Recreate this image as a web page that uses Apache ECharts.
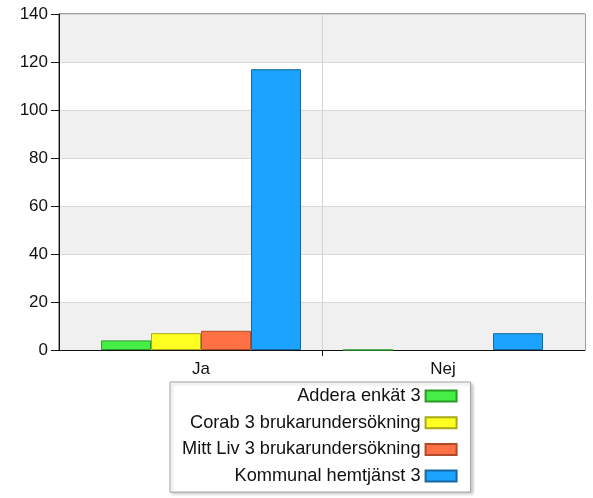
<!DOCTYPE html>
<html>
<head>
<meta charset="utf-8">
<script src="https://cdn.jsdelivr.net/npm/echarts@6/dist/echarts.min.js"></script>
<style>
  html, body { margin: 0; padding: 0; background: #fff; }
  #chart { width: 593px; height: 498px; }
</style>
</head>
<body>
<div id="chart"></div>
<script>
// Answer categories and counts per survey source
const categories = ['Ja', 'Nej'];
const seriesNames = [
  'Addera enkät 3',
  'Corab 3 brukarundersökning',
  'Mitt Liv 3 brukarundersökning',
  'Kommunal hemtjänst 3'
];
const adderaValues = [4, 0];
const corabValues = [7, null];
const mittLivValues = [8, null];
const kommunalValues = [117, 7];
const yTicks = [0, 20, 40, 60, 80, 100, 120, 140];

const fills = ['#44ee44', '#ffff22', '#ff7044', '#1ba3ff'];
const strokes = ['#2a9a2a', '#a8a818', '#b04a2a', '#16689e'];
const valueSets = [adderaValues, corabValues, mittLivValues, kommunalValues];

const font = 'Liberation Sans, Arial, sans-serif';

const chart = echarts.init(document.getElementById('chart'));
chart.setOption({
  animation: false,
  textStyle: { fontFamily: font },
  grid: [
    { left: 59, right: 8, top: 14, bottom: 148, show: true,
      borderColor: '#3a3a3a', borderWidth: 1, backgroundColor: 'transparent' },
    { left: 80, right: 29, top: 14, bottom: 148 }
  ],
  xAxis: [
    { // frame axis: category divider and its tick
      gridIndex: 0, type: 'value', min: 0, max: 2, interval: 1,
      axisLine: { show: true, lineStyle: { color: '#111', width: 1 } },
      axisTick: { show: true, customValues: [1], length: 6, lineStyle: { color: '#111' } },
      axisLabel: { show: false },
      splitLine: { show: true, lineStyle: { color: '#d4d4d4', width: 1 } }
    },
    { // bar axis
      gridIndex: 1, type: 'category', data: categories,
      axisLine: { show: false }, axisTick: { show: false },
      axisLabel: { color: '#111', fontSize: 17, margin: 11, fontFamily: font },
      splitLine: { show: false }
    }
  ],
  yAxis: [
    {
      gridIndex: 0, type: 'value', min: 0, max: 140, interval: 20,
      axisLine: { show: true, lineStyle: { color: '#111', width: 1 } },
      axisTick: { show: true, length: 8, inside: false, lineStyle: { color: '#111' } },
      axisLabel: {
        color: '#111', fontSize: 17, margin: 11, fontFamily: font,
        customValues: yTicks
      },
      splitLine: { show: true, lineStyle: { color: '#d8d8d8', width: 1 } },
      splitArea: { show: true, areaStyle: { color: ['#f0f0f0', '#ffffff'] } }
    },
    {
      gridIndex: 1, type: 'value', min: 0, max: 140, show: false,
      splitLine: { show: false }
    }
  ],
  legend: {
    orient: 'vertical',
    left: 170,
    top: 382,
    align: 'right',
    icon: 'rect',
    itemWidth: 31,
    itemHeight: 11,
    itemGap: 8.7,
    padding: [5, 13, 7, 12],
    backgroundColor: '#fff',
    borderColor: '#a0a0a0',
    borderWidth: 1,
    shadowColor: 'rgba(0,0,0,0.2)',
    shadowBlur: 3,
    shadowOffsetX: 2,
    shadowOffsetY: 2,
    textStyle: { color: '#111', fontSize: 18.2, fontFamily: font, lineHeight: 18 },
    data: seriesNames
  },
  series: seriesNames.map((name, i) => ({
    name: name,
    type: 'bar',
    xAxisIndex: 1,
    yAxisIndex: 1,
    barWidth: 50,
    barGap: '0%',
    data: valueSets[i],
    itemStyle: { color: fills[i], borderColor: strokes[i], borderWidth: 1 }
  }))
});
</script>
</body>
</html>
